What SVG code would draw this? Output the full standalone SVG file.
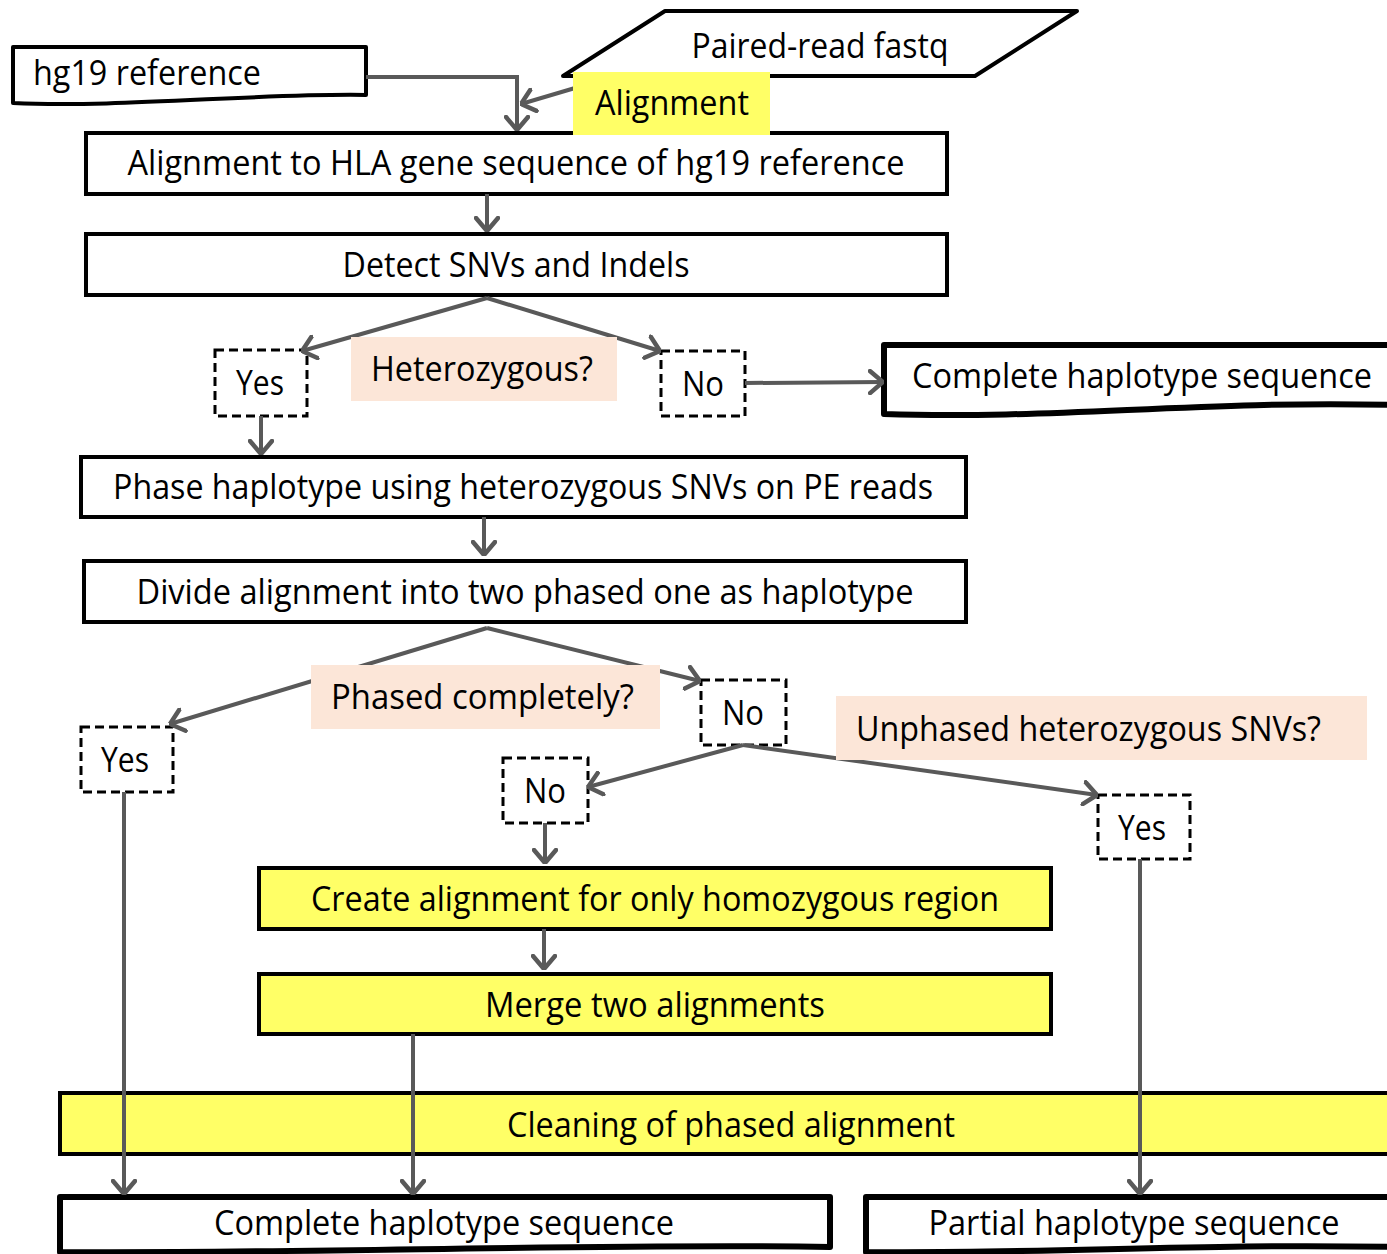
<svg xmlns="http://www.w3.org/2000/svg" width="1387" height="1254" viewBox="0 0 1387 1254">
<style>
text{font-family:"Open Sans","Liberation Sans",sans-serif;font-size:34px;fill:#000}
.box{fill:#fff;stroke:#000;stroke-width:4}
.yel{fill:#FFFF66;stroke:#000;stroke-width:4}
.doc{fill:#fff;stroke:#000;stroke-width:4;stroke-linejoin:round}
.docb{fill:#fff;stroke:#000;stroke-width:6;stroke-linejoin:round}
.dash{fill:#fff;stroke:#000;stroke-width:3;stroke-dasharray:9 5}
.peach{fill:#FCE6D8}
.con{fill:none;stroke:#595959;stroke-width:4;marker-end:url(#ah)}
.c{text-anchor:middle}
</style>
<defs>
<marker id="ah" viewBox="0 0 16 26" refX="15" refY="13" markerWidth="16" markerHeight="26" markerUnits="userSpaceOnUse" orient="auto">
<path d="M2,2 L15,13 L2,24" fill="none" stroke="#595959" stroke-width="4.5" stroke-linecap="round" stroke-linejoin="round"/>
</marker>
</defs>
<g id="hg19">
<path class="doc" d="M13,47 H366 V95 C260,93 120,108 13,103 Z"/>
<text x="33" y="85" textLength="228" lengthAdjust="spacingAndGlyphs">hg19 reference</text>
</g>
<g id="fastq">
<path class="doc" d="M665,11 H1077 L975,76 H563 Z"/>
<text x="820" y="58" class="c" textLength="257" lengthAdjust="spacingAndGlyphs">Paired-read fastq</text>
</g>
<g id="align">
<rect class="box" x="86" y="133" width="861" height="61"/>
<text x="516" y="175" class="c" textLength="777" lengthAdjust="spacingAndGlyphs">Alignment to HLA gene sequence of hg19 reference</text>
</g>
<g id="detect">
<rect class="box" x="86" y="234" width="861" height="61"/>
<text x="516" y="277" class="c" textLength="347" lengthAdjust="spacingAndGlyphs">Detect SNVs and Indels</text>
</g>
<g id="yes1">
<rect class="dash" x="215" y="350" width="92" height="66"/>
<text x="260" y="395" class="c" textLength="48" lengthAdjust="spacingAndGlyphs">Yes</text>
</g>
<g id="no1">
<rect class="dash" x="661" y="351" width="84" height="65"/>
<text x="703" y="396" class="c" textLength="42" lengthAdjust="spacingAndGlyphs">No</text>
</g>
<g id="complete1">
<path class="docb" d="M884,345 H1395 V405 C1200,400 1050,420 884,414 Z"/>
<text x="912" y="388" textLength="460" lengthAdjust="spacingAndGlyphs">Complete haplotype sequence</text>
</g>
<g id="phase">
<rect class="box" x="81" y="457" width="885" height="60"/>
<text x="523" y="499" class="c" textLength="820" lengthAdjust="spacingAndGlyphs">Phase haplotype using heterozygous SNVs on PE reads</text>
</g>
<g id="divide">
<rect class="box" x="84" y="561" width="882" height="61"/>
<text x="525" y="604" class="c" textLength="777" lengthAdjust="spacingAndGlyphs">Divide alignment into two phased one as haplotype</text>
</g>
<g id="yes2">
<rect class="dash" x="81" y="727" width="92" height="65"/>
<text x="125" y="772" class="c" textLength="48" lengthAdjust="spacingAndGlyphs">Yes</text>
</g>
<g id="no2">
<rect class="dash" x="701" y="680" width="85" height="65"/>
<text x="743" y="725" class="c" textLength="42" lengthAdjust="spacingAndGlyphs">No</text>
</g>
<g id="no3">
<rect class="dash" x="503" y="758" width="85" height="65"/>
<text x="545" y="803" class="c" textLength="42" lengthAdjust="spacingAndGlyphs">No</text>
</g>
<g id="yes3">
<rect class="dash" x="1098" y="795" width="92" height="64"/>
<text x="1142" y="840" class="c" textLength="48" lengthAdjust="spacingAndGlyphs">Yes</text>
</g>
<g id="create">
<rect class="yel" x="259" y="868" width="792" height="61"/>
<text x="655" y="911" class="c" textLength="688" lengthAdjust="spacingAndGlyphs">Create alignment for only homozygous region</text>
</g>
<g id="merge">
<rect class="yel" x="259" y="974" width="792" height="60"/>
<text x="655" y="1017" class="c" textLength="340" lengthAdjust="spacingAndGlyphs">Merge two alignments</text>
</g>
<g id="cleaning">
<rect class="yel" x="60" y="1093" width="1340" height="61"/>
<text x="731" y="1137" class="c" textLength="448" lengthAdjust="spacingAndGlyphs">Cleaning of phased alignment</text>
</g>
<g id="complete2">
<path class="docb" d="M60,1197 H830 V1247 C600,1243 300,1254 60,1252 Z"/>
<text x="444" y="1235" class="c" textLength="460" lengthAdjust="spacingAndGlyphs">Complete haplotype sequence</text>
</g>
<g id="partial">
<path class="docb" d="M866,1197 H1395 V1247 C1200,1243 1050,1254 866,1252 Z"/>
<text x="1134" y="1235" class="c" textLength="411" lengthAdjust="spacingAndGlyphs">Partial haplotype sequence</text>
</g>
<g id="connectors">
<polyline class="con" points="366,77 517,77 517,130"/>
<line class="con" x1="575" y1="88" x2="521" y2="104"/>
<line class="con" x1="487" y1="194" x2="487" y2="231"/>
<polyline class="con" points="487,298 302,351"/>
<polyline class="con" points="487,298 660,351"/>
<line class="con" x1="261" y1="416" x2="261" y2="454"/>
<line class="con" x1="745" y1="383" x2="883" y2="382"/>
<line class="con" x1="484" y1="517" x2="484" y2="555"/>
<polyline class="con" points="487,628 170,724"/>
<polyline class="con" points="487,628 700,681"/>
<polyline class="con" points="743,745 588,787"/>
<polyline class="con" points="743,745 1097,795"/>
<line class="con" x1="545" y1="823" x2="545" y2="863"/>
<line class="con" x1="544" y1="929" x2="544" y2="969"/>
<line class="con" x1="124" y1="792" x2="124" y2="1194"/>
<line class="con" x1="413" y1="1034" x2="413" y2="1194"/>
<line class="con" x1="1140" y1="859" x2="1140" y2="1194"/>
</g>
<g id="lbl-alignment">
<rect x="573" y="72" width="197" height="63" fill="#FFFF66"/>
<text x="595" y="115" textLength="154" lengthAdjust="spacingAndGlyphs">Alignment</text>
</g>
<g id="lbl-het">
<rect class="peach" x="351" y="337" width="266" height="64"/>
<text x="371" y="381" textLength="222" lengthAdjust="spacingAndGlyphs">Heterozygous?</text>
</g>
<g id="lbl-phased">
<rect class="peach" x="311" y="665" width="349" height="64"/>
<text x="331" y="709" textLength="303" lengthAdjust="spacingAndGlyphs">Phased completely?</text>
</g>
<g id="lbl-unphased">
<rect class="peach" x="836" y="696" width="531" height="64"/>
<text x="856" y="741" textLength="465" lengthAdjust="spacingAndGlyphs">Unphased heterozygous SNVs?</text>
</g>
</svg>
